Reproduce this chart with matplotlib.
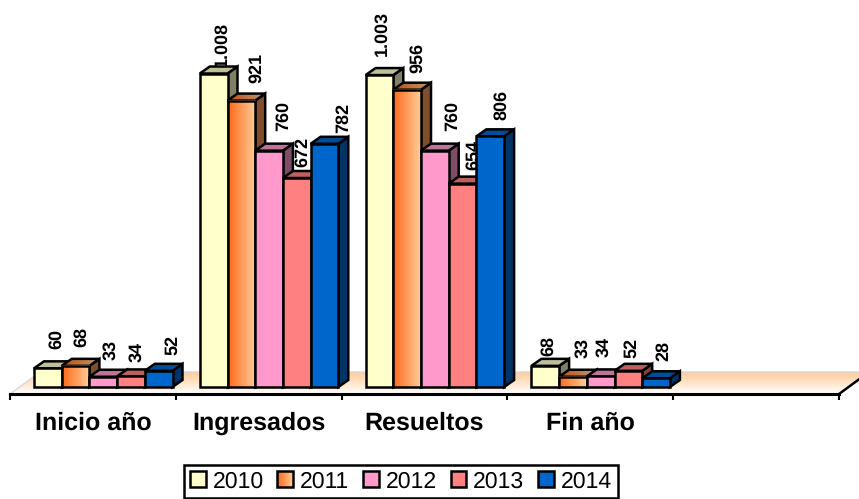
"""3D-look bars drawn by hand on a flat axes, category units on x, counts on y."""
import numpy as np
import matplotlib
matplotlib.use("Agg")
import matplotlib.pyplot as plt
from matplotlib.colors import LinearSegmentedColormap, to_rgb
from matplotlib.legend_handler import HandlerBase
from matplotlib.patches import Patch, Polygon, Rectangle

plt.rcParams["font.family"] = ["Liberation Sans", "DejaVu Sans"]
plt.rcParams["text.hinting"] = "no_hinting"
plt.rcParams["text.hinting_factor"] = 1

categories = ["Inicio año", "Ingresados", "Resueltos", "Fin año"]
years = ["2010", "2011", "2012", "2013", "2014"]
inicio = [60, 68, 33, 34, 52]
ingresados = [1008, 921, 760, 672, 782]
resueltos = [1003, 956, 760, 654, 806]
fin = [68, 33, 34, 52, 28]
series = [inicio, ingresados, resueltos, fin]
colors = ["#ffffcc", "#ff6a1a", "#ff99cc", "#ff8080", "#0066cc"]
orange_light = "#ffcc99"

# label nudges in pixels (x from bar centre, y above bar top)
label_dx = [[9, 6, 7, 6, 14], [8, 15, 14, 6, 19], [3, 10, 18, 11, 11], [3, 10, 3, 3, 7]]
label_dy = [[19, 19, 17, 14, 16], [7, 18, 20, 11, 11], [19, 17, 20, 14, 16], [10, 19, 19, 13, 17]]

W, H = 859, 499
PX_X = 165.8      # pixels per category
PX_Y = 0.311      # pixels per count
X0_PX, Y0_PX = 10, 387
BAR_W = 27.7 / PX_X
BAR_START = 24 / PX_X
DEPTH_X, DEPTH_Y = 10 / PX_X, 7 / PX_Y
LW = 1.8


def shade(c, k):
    return tuple(v * k for v in to_rgb(c))


fig = plt.figure(figsize=(W / 100, H / 100), dpi=100)
ax = fig.add_axes([0, 0, 1, 1])
ax.set_facecolor("none")
xlim = (-X0_PX / PX_X, (W - X0_PX) / PX_X)
ylim = (-(H - Y0_PX) / PX_Y, Y0_PX / PX_Y)

# floor
axis_y = -7 / PX_Y
floor_back = 15 / PX_Y
floor_dx = 30 / PX_X
floor_cmap = LinearSegmentedColormap.from_list("floor", ["#ffffff", orange_light])
floor = Polygon([(0, axis_y), (5, axis_y), (5 + floor_dx, floor_back), (floor_dx, floor_back)],
                closed=True, fc="none", ec="none")
ax.add_patch(floor)
img = ax.imshow(np.linspace(1, 0, 64)[:, None], cmap=floor_cmap, aspect="auto", zorder=1,
                extent=(0, 5 + floor_dx, axis_y, floor_back))
img.set_clip_path(floor)
ax.plot([0, floor_dx, 5 + floor_dx], [axis_y, floor_back, floor_back], color="#d8d8d8", lw=1, zorder=1.5)
ax.plot([5, 5 + floor_dx], [axis_y, floor_back], color="black", lw=LW, zorder=1.5)

# bars, left to right so each front hides the neighbour's side
orange_cmap = LinearSegmentedColormap.from_list("orange", [colors[1], orange_light])
orange_side = "#ff9a5a"
z = 5
for i, vals in enumerate(series):
    for j, v in enumerate(vals):
        x = i + BAR_START + j * BAR_W
        ax.text(x + (BAR_W / 2) + label_dx[i][j] / PX_X, v + label_dy[i][j] / PX_Y, f"{v:,}".replace(",", "."),
                rotation=90, ha="center", va="bottom", fontsize=12.9, fontweight="bold", zorder=3)
        c = colors[j]
        top = [(x, v), (x + BAR_W, v), (x + BAR_W + DEPTH_X, v + DEPTH_Y), (x + DEPTH_X, v + DEPTH_Y)]
        side = [(x + BAR_W, 0), (x + BAR_W + DEPTH_X, DEPTH_Y), (x + BAR_W + DEPTH_X, v + DEPTH_Y), (x + BAR_W, v)]
        side_color = orange_side if j == 1 else c
        ax.add_patch(Polygon(side, closed=True, fc=shade(side_color, 0.5), ec="black", lw=LW, zorder=z))
        if j == 1:
            ax.imshow(np.linspace(0, 1, 32)[None, :], cmap=LinearSegmentedColormap.from_list(
                "orange_top", [shade(colors[1], 0.75), shade(orange_light, 0.75)]), aspect="auto",
                extent=(x, x + BAR_W + DEPTH_X, v, v + DEPTH_Y), zorder=z + 0.1,
                clip_path=ax.add_patch(Polygon(top, closed=True, fc="none", ec="none", zorder=z)))
            ax.add_patch(Polygon(top, closed=True, fc="none", ec="black", lw=LW, zorder=z + 0.2))
            front = Rectangle((x, 0), BAR_W, v, fc="none", ec="none", zorder=z)
            ax.add_patch(front)
            ax.imshow(np.linspace(0, 1, 32)[None, :], cmap=orange_cmap, aspect="auto",
                      extent=(x, x + BAR_W, 0, v), zorder=z + 0.3, clip_path=front)
            ax.add_patch(Rectangle((x, 0), BAR_W, v, fc="none", ec="black", lw=LW, zorder=z + 0.4))
        else:
            ax.add_patch(Polygon(top, closed=True, fc=shade(c, 0.75), ec="black", lw=LW, zorder=z + 0.2))
            ax.add_patch(Rectangle((x, 0), BAR_W, v, fc=c, ec="black", lw=LW, zorder=z + 0.4))
        z += 1

# category axis sits on the front edge of the floor
for s in ["top", "left", "right"]:
    ax.spines[s].set_visible(False)
ax.spines["bottom"].set_position(("data", axis_y))
ax.spines["bottom"].set_bounds(0, 5)
ax.spines["bottom"].set_linewidth(2.2)
ax.spines["bottom"].set_zorder(2)
ax.set_yticks([])
ax.set_xticks(range(6), [""] * 6)
ax.set_xticks(np.arange(len(categories)) + 0.5, categories, minor=True)
ax.tick_params(axis="x", which="major", length=4.5, width=1.5, direction="out")
ax.tick_params(axis="x", which="minor", length=0, pad=12.5, labelsize=17.7)
for t in ax.get_xticklabels(minor=True):
    t.set_fontweight("bold")
ax.set_xlim(xlim)
ax.set_ylim(ylim)


class GradientHandler(HandlerBase):
    def create_artists(self, legend, orig, xd, yd, w, h, fontsize, trans):
        n = 24
        cm = LinearSegmentedColormap.from_list("o", [colors[1], orange_light])
        out = [Rectangle((xd * -1 + w * k / n, -yd), w / n, h, fc=cm(k / (n - 1)), ec="none", transform=trans)
               for k in range(n)]
        out.append(Rectangle((-xd, -yd), w, h, fc="none", ec="black", lw=LW, transform=trans))
        return out


handles = [Patch(fc=c, ec="black", lw=LW) for c in colors]
leg = fig.legend(handles, years, loc="lower center", bbox_to_anchor=(401 / W, 0.0), ncols=5, fontsize=16.6,
                 frameon=True, fancybox=False, edgecolor="black", framealpha=1, borderpad=0.25,
                 handlelength=0.68, handleheight=0.68, handletextpad=0.3, columnspacing=0.6, borderaxespad=0.05,
                 handler_map={handles[1]: GradientHandler()})
leg.get_frame().set_linewidth(1.8)

fig.savefig("out.png", dpi=100)
